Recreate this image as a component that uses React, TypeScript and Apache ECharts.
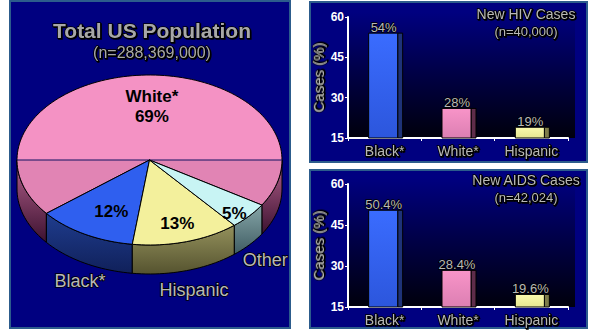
import React, { useEffect, useRef } from "react";
import * as echarts from "echarts";

// ---- data ----
const pieNames = ["White*", "Black*", "Hispanic", "Other"];
const piePercents = [69, 12, 13, 5];

const barCategories = ["Black*", "White*", "Hispanic"];
const hivValues = [54, 26, 19];
const hivLabels = ["54%", "28%", "19%"];
const aidsValues = [50.4, 28.4, 19.6];
const aidsLabels = ["50.4%", "28.4%", "19.6%"];
const yMin = 15;
const yMax = 60;
const yInterval = 15;

// ---- styles ----
const FONT = '"Liberation Sans", Arial, sans-serif';
const GRAY = "#b8b8b8";
const shadow = {
  textBorderColor: "#000",
  textBorderWidth: 1.6,
  textShadowColor: "#000",
  textShadowBlur: 1,
  textShadowOffsetX: 1,
  textShadowOffsetY: 1,
};

const PIE = { cx: 149.5, cy: 160, rx: 132.5, ry: 85, depth: 29, start: 392 };
const pieTop = ["#f492c4", "#2f5fef", "#f3f09c", "#c8f4f4"];
const pieTopDark = ["#e184b4", "#2f5fef", "#f3f09c", "#c8f4f4"];
const pieSideTop = ["#b4608c", "#1f3d8e", "#94915c", "#86a6a8"];
const pieSideBottom = ["#3c1230", "#10205a", "#55532f", "#3f5c62"];
const pieLabelR = [0.7, 0.62, 0.7, 0.85];
const pieLabelDX = [8, 2, 2, 0];
const pieOuterDX = [0, 5, 2, 1];

const barFront = [
  ["#3a6cff", "#2c56dc"],
  ["#f894c8", "#dc7fb2"],
  ["#fafaae", "#e6e690"],
];
const barSide = ["#1e3278", "#5e2c4a", "#7e7c4a"];

function pt(deg: number, dy = 0): number[] {
  const r = (deg * Math.PI) / 180;
  return [PIE.cx + PIE.rx * Math.cos(r), PIE.cy + PIE.ry * Math.sin(r) + dy];
}
function arc(lo: number, hi: number, dy: number): number[][] {
  const pts: number[][] = [];
  const n = Math.max(2, Math.ceil((hi - lo) / 2));
  for (let k = 0; k <= n; k++) pts.push(pt(lo + ((hi - lo) * k) / n, dy));
  return pts;
}
function sliceAngles(i: number): number[] {
  const total = piePercents.reduce((a, b) => a + b, 0);
  let cur = PIE.start;
  for (let j = 0; j < i; j++) cur -= (piePercents[j] / total) * 360;
  return [cur - (piePercents[i] / total) * 360, cur];
}
function visibleRanges(lo: number, hi: number): number[][] {
  const out: number[][] = [];
  for (let k = -1; k <= 2; k++) {
    const a = Math.max(lo, k * 360);
    const b = Math.min(hi, k * 360 + 180);
    if (b > a) out.push([a, b]);
  }
  return out;
}

function pieRender(params: any, api: any) {
  const i = params.dataIndex;
  const [lo, hi] = sliceAngles(i);
  const children: any[] = [];
  visibleRanges(lo, hi).forEach(([a, b]) => {
    const poly = arc(a, b, 0).concat(arc(a, b, PIE.depth).reverse());
    children.push({
      type: "polygon",
      shape: { points: poly },
      style: {
        fill: {
          type: "linear",
          x: 0,
          y: 0,
          x2: 0,
          y2: 1,
          colorStops: [
            { offset: 0, color: pieSideTop[i] },
            { offset: 1, color: pieSideBottom[i] },
          ],
        },
        stroke: "#000",
        lineWidth: 1,
      },
    });
  });
  children.push({
    type: "polygon",
    shape: { points: [[PIE.cx, PIE.cy], ...arc(lo, hi, 0)] },
    style: {
      fill: {
        type: "linear",
        x: 0,
        y: PIE.cy - PIE.ry,
        x2: 0,
        y2: PIE.cy + PIE.ry,
        global: true,
        colorStops: [
          { offset: 0, color: pieTop[i] },
          { offset: 0.5, color: pieTop[i] },
          { offset: 0.5, color: pieTopDark[i] },
          { offset: 1, color: pieTopDark[i] },
        ],
      },
      stroke: "#000",
      lineWidth: 1,
    },
  });
  if (i === 0) {
    children.push({
      type: "line",
      shape: { x1: PIE.cx - PIE.rx, y1: PIE.cy, x2: PIE.cx + PIE.rx, y2: PIE.cy },
      style: { stroke: "#101060", lineWidth: 1 },
    });
  }
  const mid = ((lo + hi) / 2) * (Math.PI / 180);
  const f = pieLabelR[i];
  const lx = PIE.cx + PIE.rx * f * Math.cos(mid) + pieLabelDX[i];
  const ly = PIE.cy + PIE.ry * f * Math.sin(mid) + 6;
  const pct = api.value(0);
  children.push({
    type: "text",
    style: {
      text: i === 0 ? pieNames[i] + "\n" + pct + "%" : pct + "%",
      x: lx,
      y: ly,
      align: "center",
      verticalAlign: "middle",
      fill: "#000",
      font: "bold 17px " + FONT,
      lineHeight: 20,
    },
  });
  if (i !== 0) {
    const ox = PIE.cx + PIE.rx * 1.15 * Math.cos(mid) + pieOuterDX[i];
    const oy = PIE.cy + PIE.ry * 1.15 * Math.sin(mid) + PIE.depth + 7;
    children.push({
      type: "text",
      style: {
        text: pieNames[i],
        x: ox,
        y: oy,
        align: "center",
        verticalAlign: "middle",
        fill: GRAY,
        font: "18px " + FONT,
        stroke: "#000",
        lineWidth: 1.6,
      },
    });
  }
  return { type: "group", children };
}

function makeBarRender(labels: string[]) {
  return (params: any, api: any) => {
    const idx = api.value(0);
    const val = api.value(1);
    const top = api.coord([idx, val]);
    const base = api.coord([idx, yMin]);
    const band = api.size([1, 0])[0];
    const fw = band * 0.396;
    const sw = band * 0.068;
    const left = top[0] - (fw + sw) / 2 + 1;
    const h = base[1] - top[1];
    return {
      type: "group",
      children: [
        {
          type: "rect",
          shape: { x: left + fw, y: top[1], width: sw, height: h },
          style: { fill: barSide[idx], stroke: "#000", lineWidth: 1 },
        },
        {
          type: "rect",
          shape: { x: left, y: top[1], width: fw, height: h },
          style: {
            fill: {
              type: "linear",
              x: 0,
              y: 0,
              x2: 0,
              y2: 1,
              colorStops: [
                { offset: 0, color: barFront[idx][0] },
                { offset: 1, color: barFront[idx][1] },
              ],
            },
            stroke: "#000",
            lineWidth: 1,
          },
        },
        {
          type: "text",
          style: {
            text: labels[idx],
            x: left + (fw + sw) / 2 - 2,
            y: top[1] + 1,
            align: "center",
            verticalAlign: "bottom",
            fill: GRAY,
            font: "13px " + FONT,
            stroke: "#000",
            lineWidth: 1.4,
          },
        },
      ],
    };
  };
}

function xAxisFor(gi: number) {
  return {
    gridIndex: gi,
    type: "category",
    data: barCategories,
    axisLine: { show: true, lineStyle: { color: "#fff", width: 2 } },
    axisTick: { show: true, length: 3, lineStyle: { color: "#fff" } },
    axisLabel: { color: GRAY, fontSize: 14, fontFamily: FONT, margin: 6, ...shadow },
  };
}
function yAxisFor(gi: number) {
  return {
    gridIndex: gi,
    type: "value",
    min: yMin,
    max: yMax,
    interval: yInterval,
    axisLine: { show: true, lineStyle: { color: "#fff", width: 2 } },
    axisTick: { show: true, length: 3, lineStyle: { color: "#fff" } },
    axisLabel: { color: "#fff", fontWeight: "bold", fontSize: 12, fontFamily: FONT, margin: 4 },
    splitLine: { show: false },
    name: "Cases (%)",
    nameLocation: "middle",
    nameRotate: 90,
    nameGap: 22,
    nameTextStyle: { color: GRAY, fontSize: 15, fontFamily: FONT, ...shadow },
  };
}

function titleAt(text: string, x: number, y: number, size: number, bold: boolean, color = GRAY) {
  return {
    text,
    left: x,
    top: y,
    textAlign: "center",
    padding: 0,
    textStyle: {
      color,
      fontSize: size,
      fontWeight: bold ? "bold" : "normal",
      fontFamily: FONT,
      ...shadow,
    },
  };
}

const plotGrad = () => ({
  type: "linear",
  x: 0,
  y: 0,
  x2: 0,
  y2: 1,
  colorStops: [
    { offset: 0, color: "#000080" },
    { offset: 0.45, color: "#00004a" },
    { offset: 1, color: "#00000c" },
  ],
});

export default function App() {
  const ref = useRef<HTMLDivElement>(null);
  useEffect(() => {
    if (!ref.current) return;
    const chart = echarts.init(ref.current, undefined, { renderer: "svg" });
    const option: any = {
      animation: false,
      backgroundColor: "#ffffff",
      title: [
        titleAt("Total US Population", 152, 20, 21, true, "#a8a8a8"),
        titleAt("(n=288,369,000)", 152, 44, 16, false, "#a8a8a8"),
        titleAt("New HIV Cases", 526, 7, 14, false),
        titleAt("(n=40,000)", 526, 25, 13, false),
        titleAt("New AIDS Cases", 526, 173, 14, false),
        titleAt("(n=42,024)", 526, 191, 13, false),
      ],
      graphic: {
        elements: [
          {
            type: "rect",
            z: -10,
            shape: { x: 10, y: 1, width: 280, height: 327 },
            style: { fill: "#000080", stroke: "#2c5c8c", lineWidth: 2 },
          },
          {
            type: "rect",
            z: -10,
            shape: { x: 310, y: 2, width: 277, height: 160 },
            style: { fill: "#000080", stroke: "#2c5c8c", lineWidth: 2 },
          },
          {
            type: "rect",
            z: -10,
            shape: { x: 310, y: 170, width: 277, height: 158 },
            style: { fill: "#000080", stroke: "#2c5c8c", lineWidth: 2 },
          },
          {
            type: "rect",
            z: -9,
            shape: { x: 348, y: 12, width: 227, height: 126 },
            style: { fill: plotGrad() },
          },
          {
            type: "rect",
            z: -9,
            shape: { x: 348, y: 178, width: 227, height: 129 },
            style: { fill: plotGrad() },
          },
        ],
      },
      grid: [
        { left: 348, top: 17, width: 220, height: 121 },
        { left: 348, top: 184, width: 220, height: 123 },
      ],
      xAxis: [xAxisFor(0), xAxisFor(1)],
      yAxis: [yAxisFor(0), yAxisFor(1)],
      series: [
        {
          type: "custom",
          coordinateSystem: "none",
          renderItem: pieRender,
          data: piePercents.map((v) => [v]),
          z: 3,
        },
        {
          type: "custom",
          xAxisIndex: 0,
          yAxisIndex: 0,
          renderItem: makeBarRender(hivLabels),
          data: hivValues.map((v, i) => [i, v]),
          z: 3,
        },
        {
          type: "custom",
          xAxisIndex: 1,
          yAxisIndex: 1,
          renderItem: makeBarRender(aidsLabels),
          data: aidsValues.map((v, i) => [i, v]),
          z: 3,
        },
      ],
    };
    chart.setOption(option);
    return () => chart.dispose();
  }, []);
  return (
    <div
      ref={ref}
      style={{ position: "absolute", left: 0, top: 0, width: 590, height: 331 }}
    />
  );
}
